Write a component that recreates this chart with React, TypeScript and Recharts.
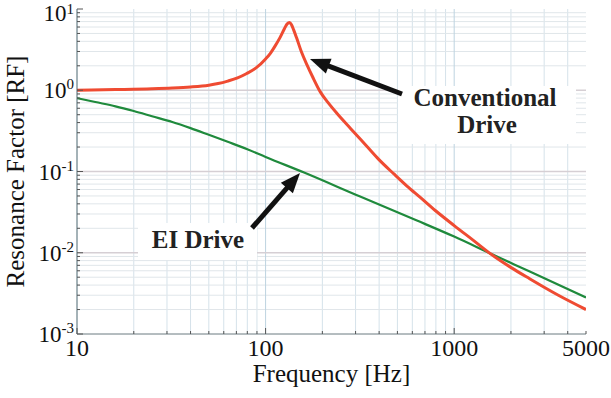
import React from "react";
import { LineChart, Line, XAxis, YAxis, ReferenceLine, Label } from "recharts";

// frequency [Hz] / resonance factor
const conventionalFreq = [
  10, 16, 25, 32, 40, 50, 56, 63, 71, 79, 89, 100, 106, 112, 119, 126, 130, 134, 137, 141, 146,
  155, 166, 178, 195, 214, 240, 282, 347, 398, 479, 562, 661, 794, 1000, 1259, 1585, 1995, 2512,
  3548, 5000,
];
const conventionalRF = [
  1.0, 1.019, 1.042, 1.064, 1.096, 1.153, 1.208, 1.297, 1.419, 1.596, 1.884, 2.427, 2.851, 3.467,
  4.416, 5.754, 6.531, 6.839, 6.457, 5.495, 4.416, 2.951, 2.042, 1.445, 0.955, 0.708, 0.513, 0.339,
  0.2, 0.141, 0.0933, 0.0661, 0.0479, 0.0331, 0.0216, 0.0143, 0.00944, 0.00661, 0.00479, 0.00302,
  0.002,
];

const eiFreq = [10, 12.5, 16, 20, 25, 32, 40, 50, 63, 80, 100, 160, 315, 630, 1000, 1600, 2500, 5000];
const eiRF = [
  0.8, 0.716, 0.634, 0.555, 0.479, 0.407, 0.342, 0.283, 0.232, 0.188, 0.151, 0.097, 0.0495, 0.0251,
  0.0158, 0.0095, 0.00592, 0.00282,
];

const xTicks = [10, 100, 1000, 5000];
const xMinor = [20, 30, 40, 50, 60, 70, 80, 90, 200, 300, 400, 500, 600, 700, 800, 900, 2000, 3000, 4000];
const xMajorGrid = [100, 1000];
const yTicks = [0.001, 0.01, 0.1, 1, 10];
const yMinor = [
  0.002, 0.003, 0.004, 0.005, 0.006, 0.007, 0.008, 0.009,
  0.02, 0.03, 0.04, 0.05, 0.06, 0.07, 0.08, 0.09,
  0.2, 0.3, 0.4, 0.5, 0.6, 0.7, 0.8, 0.9,
  2, 3, 4, 5, 6, 7, 8, 9,
];
const yMajorGrid = [0.01, 0.1, 1];

const conventionalData = conventionalFreq.map((f, i) => ({ f, rf: conventionalRF[i] }));
const eiData = eiFreq.map((f, i) => ({ f, rf: eiRF[i] }));

const allX = [...xTicks, ...xMinor].sort((a, b) => a - b);
const allY = [...yTicks, ...yMinor].sort((a, b) => a - b);

const SERIF = "'Liberation Serif', 'Times New Roman', serif";
const TICK_COLOR = "#555";

const isDecade = (v: number) => Math.abs(Math.log10(v) - Math.round(Math.log10(v))) < 1e-6;

function LeftTick({ x, y, payload }: any) {
  const v = payload.value;
  const major = isDecade(v);
  // the top label sits a little lower so its exponent stays on the page
  const top = v === 10;
  return (
    <g>
      <line x1={x} y1={y} x2={x + (major ? 6 : 3)} y2={y} stroke={TICK_COLOR} strokeWidth={1} />
      {major && (
        <text x={x - 3} y={y + (top ? 12 : 8)} textAnchor="end" fontFamily={SERIF} fontSize={23} fill="#111">
          10
          <tspan dy={top ? -7 : -9} fontSize={15}>
            {Math.round(Math.log10(v))}
          </tspan>
        </text>
      )}
    </g>
  );
}

function RightTick({ x, y, payload }: any) {
  const major = isDecade(payload.value);
  return <line x1={x} y1={y} x2={x - (major ? 6 : 3)} y2={y} stroke={TICK_COLOR} strokeWidth={1} />;
}

function BottomTick({ x, y, payload }: any) {
  const v = payload.value;
  const labelled = xTicks.includes(v);
  const major = isDecade(v);
  return (
    <g>
      <line x1={x} y1={y} x2={x} y2={y - (major ? 6 : 3)} stroke={TICK_COLOR} strokeWidth={1} />
      {labelled && (
        <text x={x} y={y + 22} textAnchor="middle" fontFamily={SERIF} fontSize={24} fill="#111">
          {v}
        </text>
      )}
    </g>
  );
}

function TopTick({ x, y, payload }: any) {
  const major = isDecade(payload.value);
  return <line x1={x} y1={y} x2={x} y2={y + (major ? 6 : 3)} stroke={TICK_COLOR} strokeWidth={1} />;
}

function Arrow({ from, to }: { from: [number, number]; to: [number, number] }) {
  const dx = to[0] - from[0];
  const dy = to[1] - from[1];
  const len = Math.hypot(dx, dy);
  const ux = dx / len;
  const uy = dy / len;
  const headLen = 20;
  const half = 8;
  const bx = to[0] - ux * headLen;
  const by = to[1] - uy * headLen;
  const nx = -uy;
  const ny = ux;
  return (
    <g>
      <line x1={from[0]} y1={from[1]} x2={bx + ux * 2} y2={by + uy * 2} stroke="#111" strokeWidth={5} />
      <polygon
        points={`${to[0]},${to[1]} ${bx + nx * half},${by + ny * half} ${bx - nx * half},${by - ny * half}`}
        fill="#111"
      />
    </g>
  );
}

export default function App() {
  return (
    <div style={{ position: "absolute", left: 0, top: 0, width: 611, height: 398, background: "#fff" }}>
      <LineChart width={611} height={398} margin={{ top: 9, right: 25, bottom: 0, left: 0 }}>
        <XAxis
          dataKey="f"
          type="number"
          scale="log"
          domain={[10, 5000]}
          allowDataOverflow
          ticks={allX}
          interval={0}
          tickSize={0}
          tickMargin={0}
          tick={<BottomTick />}
          height={64}
          axisLine={{ stroke: "#6a7a80" }}
        >
          <Label
            content={({ viewBox }: any) => (
              <text
                x={viewBox.x + viewBox.width / 2}
                y={382}
                textAnchor="middle"
                fontFamily={SERIF}
                fontSize={25}
                fill="#111"
              >
                Frequency [Hz]
              </text>
            )}
          />
        </XAxis>
        <XAxis
          xAxisId="top"
          orientation="top"
          type="number"
          scale="log"
          domain={[10, 5000]}
          allowDataOverflow
          ticks={allX}
          interval={0}
          tickSize={0}
          tickMargin={0}
          tick={<TopTick />}
          height={0}
          axisLine={{ stroke: "#f0907e" }}
        />
        <YAxis
          type="number"
          scale="log"
          domain={[0.001, 10]}
          allowDataOverflow
          ticks={allY}
          interval={0}
          tickSize={0}
          tickMargin={0}
          tick={<LeftTick />}
          width={77}
          axisLine={{ stroke: "#4a6670" }}
        >
          <Label
            content={({ viewBox }: any) => {
              const cx = 24;
              const cy = viewBox.y + viewBox.height / 2;
              return (
                <text
                  x={cx}
                  y={cy}
                  transform={`rotate(-90, ${cx}, ${cy})`}
                  textAnchor="middle"
                  fontFamily={SERIF}
                  fontSize={25}
                  fill="#111"
                >
                  Resonance Factor [RF]
                </text>
              );
            }}
          />
        </YAxis>
        <YAxis
          yAxisId="right"
          orientation="right"
          type="number"
          scale="log"
          domain={[0.001, 10]}
          allowDataOverflow
          ticks={allY}
          interval={0}
          tickSize={0}
          tickMargin={0}
          tick={<RightTick />}
          width={0}
          axisLine={{ stroke: "#9ab4c0" }}
        />

        {xMinor.map((v) => (
          <ReferenceLine key={`xm${v}`} x={v} stroke="#d5e2ea" strokeWidth={1} />
        ))}
        {yMinor.map((v) => (
          <ReferenceLine key={`ym${v}`} y={v} stroke="#e0e6ea" strokeWidth={1} />
        ))}
        {xMajorGrid.map((v) => (
          <ReferenceLine key={`xM${v}`} x={v} stroke="#bdd3e0" strokeWidth={1} />
        ))}
        {yMajorGrid.map((v) => (
          <ReferenceLine key={`yM${v}`} y={v} stroke="#d6cfd4" strokeWidth={1.5} />
        ))}

        <Line
          data={eiData}
          dataKey="rf"
          type="monotone"
          stroke="#1f8a3c"
          strokeWidth={2.2}
          dot={false}
          isAnimationActive={false}
        />
        <Line
          data={conventionalData}
          dataKey="rf"
          type="monotone"
          stroke="#ef4b32"
          strokeWidth={3}
          dot={false}
          isAnimationActive={false}
        />
      </LineChart>

      <svg width={611} height={398} style={{ position: "absolute", left: 0, top: 0, pointerEvents: "none" }}>
        <rect x={398} y={86} width={178} height={58} fill="#fff" />
        <text x={485} y={106} textAnchor="middle" fontFamily={SERIF} fontWeight="bold" fontSize={25} fill="#222">
          Conventional
        </text>
        <text x={487} y={133} textAnchor="middle" fontFamily={SERIF} fontWeight="bold" fontSize={25} fill="#222">
          Drive
        </text>
        <Arrow from={[402, 94]} to={[310, 59]} />

        <rect x={138} y={223} width={119} height={37} fill="#fff" />
        <text x={198} y={248} textAnchor="middle" fontFamily={SERIF} fontWeight="bold" fontSize={25} fill="#222">
          EI Drive
        </text>
        <Arrow from={[252, 228]} to={[300, 173]} />
      </svg>
    </div>
  );
}
